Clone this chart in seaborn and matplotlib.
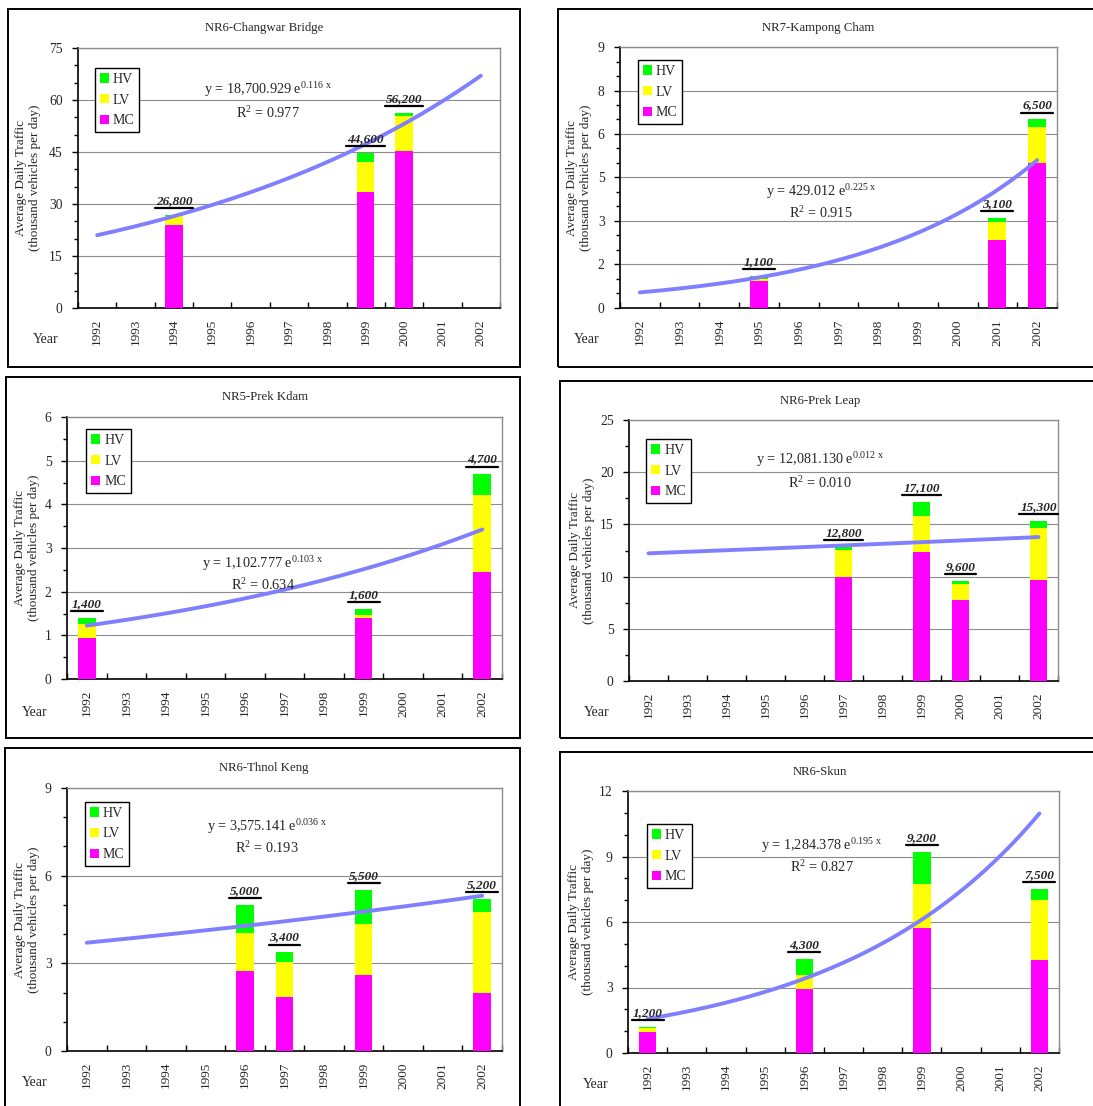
import numpy as np
import pandas as pd
import matplotlib
matplotlib.use("Agg")
import matplotlib.pyplot as plt
import seaborn as sns
from matplotlib.patches import Patch, Rectangle
from matplotlib.lines import Line2D
from matplotlib.ticker import MultipleLocator, FuncFormatter
import matplotlib.transforms as mtransforms

sns.set_theme(style="white")
plt.rcParams["font.family"] = ["Liberation Serif", "DejaVu Serif"]
plt.rcParams["mathtext.fontset"] = "custom"
plt.rcParams["mathtext.rm"] = "Liberation Serif"
plt.rcParams["mathtext.it"] = "Liberation Serif:italic"
plt.rcParams["mathtext.bf"] = "Liberation Serif:bold"

# ---------------- data (thousand vehicles per day) ----------------
years = ["1992", "1993", "1994", "1995", "1996", "1997",
         "1998", "1999", "2000", "2001", "2002"]
vehicle_types = ["HV", "LV", "MC"]

changwar_years = ["1994", "1999", "2000"]
changwar_mc = [24.0, 33.6, 45.4]
changwar_lv = [2.6, 8.6, 10.1]
changwar_hv = [0.2, 2.4, 0.7]

kampong_years = ["1995", "2001", "2002"]
kampong_mc = [0.92, 2.33, 4.99]
kampong_lv = [0.08, 0.62, 1.26]
kampong_hv = [0.10, 0.15, 0.25]

kdam_years = ["1992", "1999", "2002"]
kdam_mc = [0.93, 1.40, 2.46]
kdam_lv = [0.33, 0.06, 1.75]
kdam_hv = [0.14, 0.14, 0.49]

leap_years = ["1997", "1999", "2000", "2002"]
leap_mc = [10.0, 12.35, 7.8, 9.7]
leap_lv = [2.55, 3.5, 1.5, 4.95]
leap_hv = [0.25, 1.25, 0.3, 0.65]

thnol_years = ["1996", "1997", "1999", "2002"]
thnol_mc = [2.75, 1.85, 2.6, 2.0]
thnol_lv = [1.3, 1.2, 1.75, 2.77]
thnol_hv = [0.95, 0.35, 1.15, 0.43]

skun_years = ["1992", "1996", "1999", "2002"]
skun_mc = [0.95, 2.93, 5.73, 4.25]
skun_lv = [0.2, 0.64, 2.0, 2.75]
skun_hv = [0.05, 0.73, 1.47, 0.5]

# exponential trend fits: y = a * exp(b * x), x = 1 for 1992
trend_a = [18700.929, 429.012, 1102.777, 12081.130, 3575.141, 1284.378]
trend_b = [0.116, 0.225, 0.103, 0.012, 0.036, 0.195]
trend_r2 = [0.977, 0.915, 0.634, 0.010, 0.193, 0.827]

titles = ["NR6-Changwar Bridge", "NR7-Kampong Cham", "NR5-Prek Kdam",
          "NR6-Prek Leap", "NR6-Thnol Keng", "NR6-Skun"]

# ---------------- layout (pixels) ----------------
W, H = 1093, 1106
panels = [
    dict(years=changwar_years, mc=changwar_mc, lv=changwar_lv, hv=changwar_hv,
         ymax=75, major=15, minor=5,
         box=(8, 9, 520, 367), axes=(78, 48, 500, 308),
         title=(264, 28), year=(46, 340), ylab=-0.118,
         leg=(0.04, 0.923), eq=(0.45, 0.84, 0.75)),
    dict(years=kampong_years, mc=kampong_mc, lv=kampong_lv, hv=kampong_hv,
         ymax=9, major=1.5, minor=0.5,
         box=(558, 9, 1100, 367), axes=(620, 47, 1057, 308),
         title=(818, 28), year=(587, 340), ylab=-0.094,
         leg=(0.041, 0.95), eq=(0.46, 0.445, 0.365)),
    dict(years=kdam_years, mc=kdam_mc, lv=kdam_lv, hv=kdam_hv,
         ymax=6, major=1, minor=0.5,
         box=(6, 377, 520, 738), axes=(67, 417, 502, 679),
         title=(265, 397), year=(35, 712), ylab=-0.092,
         leg=(0.044, 0.954), eq=(0.45, 0.44, 0.36)),
    dict(years=leap_years, mc=leap_mc, lv=leap_lv, hv=leap_hv,
         ymax=25, major=5, minor=2.5,
         box=(560, 381, 1100, 738), axes=(629, 420, 1058, 681),
         title=(820, 401), year=(597, 713), ylab=-0.11,
         leg=(0.04, 0.927), eq=(0.445, 0.85, 0.76)),
    dict(years=thnol_years, mc=thnol_mc, lv=thnol_lv, hv=thnol_hv,
         ymax=9, major=3, minor=1,
         box=(5, 748, 520, 1110), axes=(67, 788, 502, 1051),
         title=(264, 768), year=(35, 1083), ylab=-0.092,
         leg=(0.041, 0.947), eq=(0.46, 0.855, 0.77)),
    dict(years=skun_years, mc=skun_mc, lv=skun_lv, hv=skun_hv,
         ymax=12, major=3, minor=1,
         box=(560, 752, 1100, 1110), axes=(628, 791, 1059, 1053),
         title=(820, 772), year=(596, 1084), ylab=-0.109,
         leg=(0.044, 0.874), eq=(0.45, 0.79, 0.71)),
]

MC_C, LV_C, HV_C = "#FF00FF", "#FFFF00", "#00FF00"
TREND_C = "#8080FF"
FS = 9.5

fig = plt.figure(figsize=(W / 100, H / 100), dpi=100)
fig.patch.set_facecolor("white")

value_labels = []

for i, p in enumerate(panels):
    bx0, by0, bx1, by1 = p["box"]
    fig.add_artist(Rectangle((bx0 / W, 1 - by1 / H), (bx1 - bx0) / W, (by1 - by0) / H,
                             transform=fig.transFigure, fill=False,
                             edgecolor="black", linewidth=1.4, zorder=0))
    x0, y0, x1, y1 = p["axes"]
    ax = fig.add_axes([x0 / W, 1 - y1 / H, (x1 - x0) / W, (y1 - y0) / H])
    ax.set_facecolor("white")

    df = pd.DataFrame({"year": p["years"], "mc": p["mc"], "lv": p["lv"], "hv": p["hv"]})
    df["mc_lv"] = df["mc"] + df["lv"]
    df["total"] = df["mc_lv"] + df["hv"]

    # stacked bars: draw cumulative totals back to front
    for col, c in [("total", HV_C), ("mc_lv", LV_C), ("mc", MC_C)]:
        sns.barplot(data=df, x="year", y=col, order=years, color=c, saturation=1,
                    width=0.45, errorbar=None, linewidth=0, ax=ax, zorder=3)

    # exponential trend line
    xs = np.linspace(1, 11, 200)
    ys = trend_a[i] * np.exp(trend_b[i] * xs) / 1000.0
    ax.plot(xs - 1, ys, color=TREND_C, lw=2.8, solid_capstyle="round", zorder=4)

    # axes styling
    ax.set_xlim(-0.5, 10.5)
    ax.set_ylim(0, p["ymax"])
    ax.yaxis.set_major_locator(MultipleLocator(p["major"]))
    ax.yaxis.set_minor_locator(MultipleLocator(p["minor"]))
    ax.yaxis.set_major_formatter(FuncFormatter(lambda v, pos: f"{int(np.floor(v + 0.5 + 1e-9))}"))
    ax.yaxis.grid(True, which="major", color="#8c8c8c", linewidth=0.8)
    ax.set_axisbelow(True)
    ax.set_xticks(range(len(years)))
    ax.set_xticklabels(years, rotation=90, fontsize=FS)
    ax.set_xticks(np.arange(-0.5, len(years), 1.0), minor=True)
    ax.tick_params(axis="x", which="major", length=0, pad=8)
    ax.tick_params(axis="x", which="minor", direction="in", length=4, width=1, color="black", bottom=True)
    ax.tick_params(axis="y", which="major", direction="out", length=4, width=1, color="black",
                   labelsize=FS + 0.3, pad=7, left=True)
    ax.tick_params(axis="y", which="minor", direction="out", length=3, width=1, color="black", left=True)
    for s in ["left", "bottom"]:
        ax.spines[s].set_color("black")
        ax.spines[s].set_linewidth(1.2)
    for s in ["top", "right"]:
        ax.spines[s].set_color("#8c8c8c")
        ax.spines[s].set_linewidth(1.0)

    ax.set_xlabel("")
    ax.set_ylabel("Average Daily Traffic\n(thousand vehicles per day)", fontsize=FS,
                  linespacing=1.25)
    ax.yaxis.set_label_coords(p["ylab"], 0.5)
    ax.yaxis.label.set_va("center")

    # legend
    handles = [Patch(facecolor=HV_C, edgecolor="none", label="HV"),
               Patch(facecolor=LV_C, edgecolor="none", label="LV"),
               Patch(facecolor=MC_C, edgecolor="none", label="MC")]
    leg = ax.legend(handles=handles, loc="upper left", bbox_to_anchor=p["leg"],
                    borderaxespad=0, fontsize=10, handlelength=0.65, handleheight=0.65,
                    handletextpad=0.3, labelspacing=0.55, borderpad=0.35,
                    fancybox=False, framealpha=1, edgecolor="black")
    leg.get_frame().set_linewidth(1.0)
    leg.set_zorder(6)

    # trend equation
    ex, ey, ry = p["eq"]
    a_txt = f"{trend_a[i]:,.3f}"
    ax.text(ex, ey, "y = " + a_txt + r" e$^{\mathregular{" + f"{trend_b[i]:.3f}" + r"\ x}}$",
            transform=ax.transAxes, ha="center", va="center", fontsize=10.3, zorder=7)
    ax.text(ex, ry, r"R$^{\mathregular{2}}$" + f" = {trend_r2[i]:.3f}",
            transform=ax.transAxes, ha="center", va="center", fontsize=10.3, zorder=7)

    # total value labels above each bar
    for yr, tot in zip(df["year"], df["total"]):
        pos = years.index(yr)
        t = ax.annotate(f"{int(round(tot * 1000)):,}", xy=(pos, tot), xytext=(0, 8),
                        textcoords="offset points", ha="center", va="baseline",
                        fontsize=FS, fontweight="bold", fontstyle="italic", zorder=8)
        value_labels.append((ax, t, pos, tot))

    # panel title and axis caption
    tx, ty = p["title"]
    fig.text(tx / W, 1 - ty / H, titles[i], ha="center", va="center", fontsize=9.2)
    yx, yy = p["year"]
    fig.text(yx / W, 1 - yy / H, "Year", ha="center", va="center", fontsize=10)

# underline each value label across its text width
fig.canvas.draw()
renderer = fig.canvas.get_renderer()
for ax, t, pos, tot in value_labels:
    bb = t.get_window_extent(renderer)
    base = ax.transData.transform((pos, tot))
    uy = base[1] + 7
    fig.add_artist(Line2D([bb.x0 - 1, bb.x1 + 1], [uy, uy], transform=mtransforms.IdentityTransform(),
                          color="black", linewidth=1.6, zorder=9))

fig.savefig("out.png", dpi=100, facecolor="white")
